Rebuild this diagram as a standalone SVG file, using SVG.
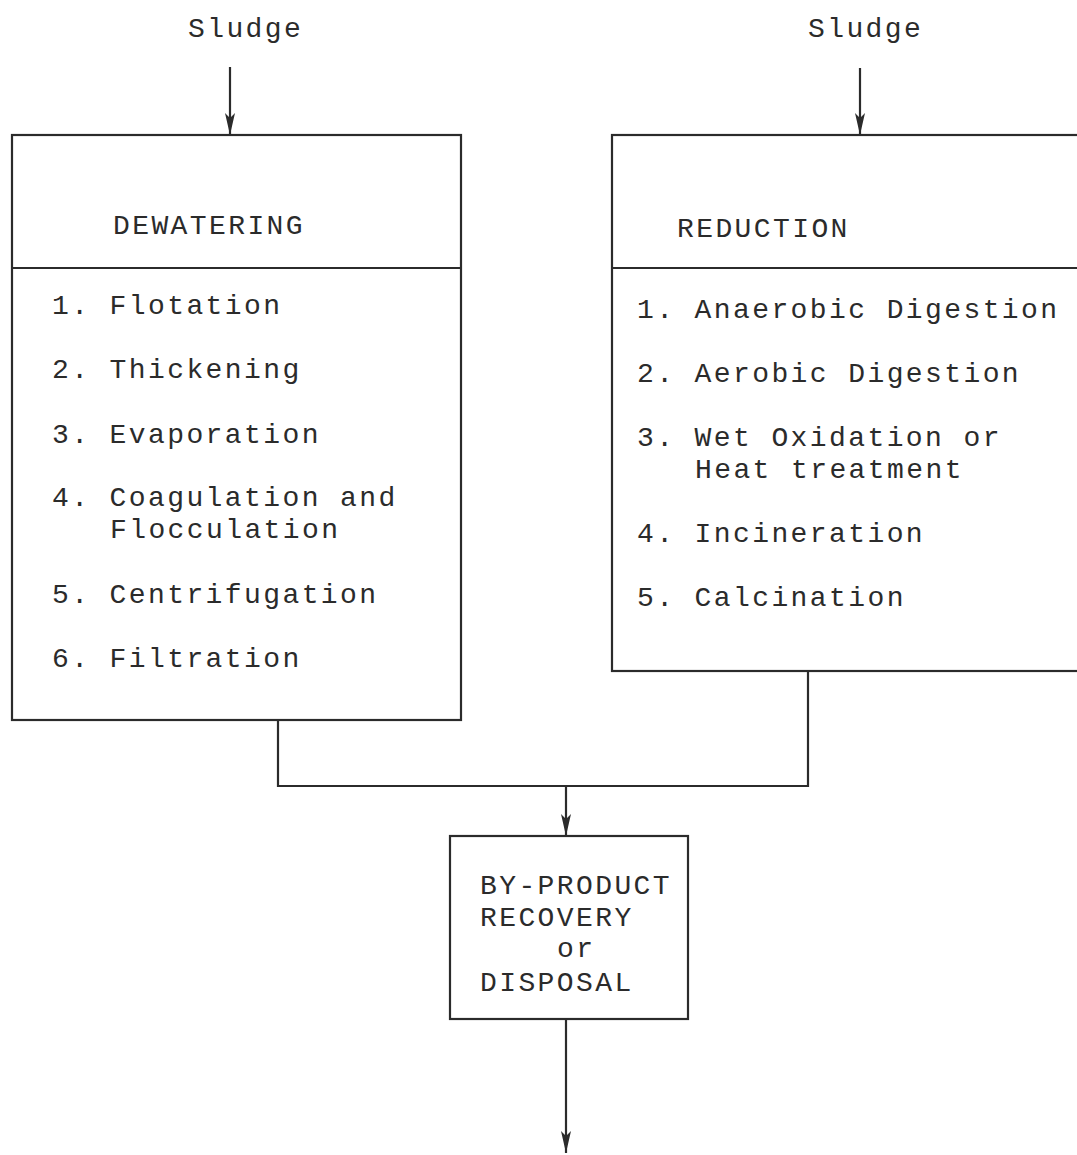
<svg xmlns="http://www.w3.org/2000/svg" width="1077" height="1155" viewBox="0 0 1077 1155">
<style>
text{font-family:"Liberation Mono","DejaVu Sans Mono",monospace;font-size:28px;letter-spacing:2.4px;fill:#2b2b2b}
.box{fill:none;stroke:#2b2b2b;stroke-width:2.2}
.ln{fill:none;stroke:#2b2b2b;stroke-width:2.2}
</style>
<defs>
<marker id="arr" markerWidth="22" markerHeight="12" refX="22" refY="6" orient="auto" markerUnits="userSpaceOnUse" viewBox="0 0 22 12">
<path d="M0,1 L22,6 L0,11 L5,6 Z" fill="#2b2b2b"/>
</marker>
</defs>
<rect width="1077" height="1155" fill="#ffffff"/>
<g id="sludge-left"><text x="188" y="37">Sludge</text></g>
<g id="sludge-right"><text x="808" y="37">Sludge</text></g>
<g id="dewatering">
<rect class="box" x="12" y="135" width="449" height="585"/>
<line class="ln" x1="12" y1="268" x2="461" y2="268"/>
<text x="113" y="234">DEWATERING</text>
<text x="52" y="314">1. Flotation</text>
<text x="52" y="378">2. Thickening</text>
<text x="52" y="443">3. Evaporation</text>
<text x="52" y="506">4. Coagulation and</text>
<text x="110" y="538">Flocculation</text>
<text x="52" y="603">5. Centrifugation</text>
<text x="52" y="667">6. Filtration</text>
</g>
<g id="reduction">
<rect class="box" x="612" y="135" width="480" height="536"/>
<line class="ln" x1="612" y1="268" x2="1077" y2="268"/>
<text x="677" y="237">REDUCTION</text>
<text x="637" y="318">1. Anaerobic Digestion</text>
<text x="637" y="382">2. Aerobic Digestion</text>
<text x="637" y="446">3. Wet Oxidation or</text>
<text x="695" y="478">Heat treatment</text>
<text x="637" y="542">4. Incineration</text>
<text x="637" y="606">5. Calcination</text>
</g>
<g id="byproduct">
<rect class="box" x="450" y="836" width="238" height="183"/>
<text x="480" y="894">BY-PRODUCT</text>
<text x="480" y="926">RECOVERY</text>
<text x="557" y="957">or</text>
<text x="480" y="991">DISPOSAL</text>
</g>
<g id="connectors">
<line class="ln" x1="230" y1="67" x2="230" y2="135" marker-end="url(#arr)"/>
<line class="ln" x1="860" y1="68" x2="860" y2="135" marker-end="url(#arr)"/>
<polyline class="ln" points="278,720 278,786 808,786 808,671"/>
<line class="ln" x1="566" y1="786" x2="566" y2="836" marker-end="url(#arr)"/>
<line class="ln" x1="566" y1="1019" x2="566" y2="1153" marker-end="url(#arr)"/>
</g>
</svg>
